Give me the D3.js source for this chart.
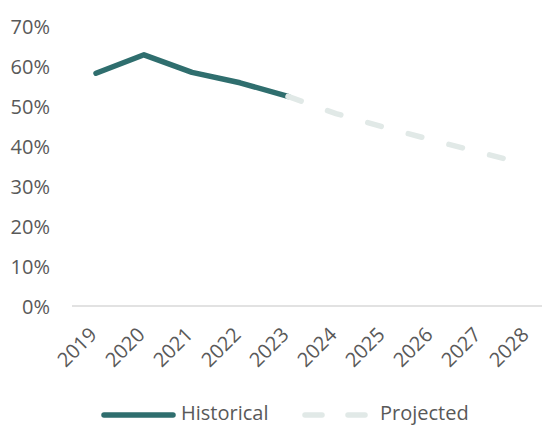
<!DOCTYPE html>
<html>
<head>
<meta charset="utf-8">
<script src="https://cdn.jsdelivr.net/npm/d3@7"></script>
<style>
  body { margin: 0; background: #fff; }
  svg { display: block; font-family: 'Open Sans', sans-serif; }
</style>
</head>
<body>
<div id="chart"></div>
<script>
// data (percent)
const years = ['2019', '2020', '2021', '2022', '2023', '2024', '2025', '2026', '2027', '2028'];
const historicalYears = ['2019', '2020', '2021', '2022', '2023'];
const historical = [58.2, 62.8, 58.4, 55.8, 52.4];
const projectedYears = ['2023', '2024', '2025', '2026', '2027', '2028'];
const projected = [52.4, 48.1, 44.7, 41.5, 38.4, 35.3];
const yTicks = [0, 10, 20, 30, 40, 50, 60, 70];
const seriesNames = ['Historical', 'Projected'];

const width = 542;
const height = 426;
const teal = '#2f6e6e';
const light = '#e1e9e7';
const textColor = '#595959';
const font = "'Open Sans', sans-serif";

// scales
const scaleX = d3.scaleBand().domain(years).range([72, 552]);
const scaleY = d3.scaleLinear().domain([0, 70]).range([306, 26]);
const cx = d => scaleX(d) + scaleX.bandwidth() / 2;

const $svg = d3.select('#chart').append('svg')
    .attr('width', width)
    .attr('height', height);

// y axis labels, no line
const $yAxis = $svg.append('g')
    .attr('transform', 'translate(50, 0)')
    .call(d3.axisLeft(scaleY).tickValues(yTicks).tickSize(0).tickPadding(0).tickFormat(d => `${d}%`))
    .attr('font-family', font)
    .attr('font-size', 20);
$yAxis.select('.domain').remove();
$yAxis.selectAll('text')
    .attr('fill', textColor)
    .attr('dy', '0.35em');

// x axis baseline
$svg.append('line')
    .attr('x1', scaleX.range()[0])
    .attr('x2', scaleX.range()[1])
    .attr('y1', scaleY(0))
    .attr('y2', scaleY(0))
    .attr('stroke', '#d9d9d9')
    .attr('stroke-width', 1.5);

// rotated year labels
$svg.append('g').selectAll('text')
    .data(years)
    .join('text')
    .attr('transform', d => `translate(${cx(d) + 2}, 336) rotate(-45)`)
    .attr('text-anchor', 'end')
    .attr('fill', textColor)
    .style('font-size', '20px')
    .text(d => d);

const line = d3.line()
    .x(d => cx(d[0]))
    .y(d => scaleY(d[1]));

// historical solid, projected dashed on top
$svg.append('path')
    .datum(d3.zip(historicalYears, historical))
    .attr('d', line)
    .attr('fill', 'none')
    .attr('stroke', teal)
    .attr('stroke-width', 5.5)
    .attr('stroke-linecap', 'round')
    .attr('stroke-linejoin', 'round');

$svg.append('path')
    .datum(d3.zip(projectedYears, projected))
    .attr('d', line)
    .attr('fill', 'none')
    .attr('stroke', light)
    .attr('stroke-width', 5.5)
    .attr('stroke-linecap', 'round')
    .attr('stroke-dasharray', '14,28');

// legend
const $legend = $svg.append('g');
$legend.append('line')
    .attr('x1', 104).attr('x2', 173)
    .attr('y1', 415).attr('y2', 415)
    .attr('stroke', teal)
    .attr('stroke-width', 5.5)
    .attr('stroke-linecap', 'round');
$legend.append('line')
    .attr('x1', 305).attr('x2', 365)
    .attr('y1', 415).attr('y2', 415)
    .attr('stroke', light)
    .attr('stroke-width', 5.5)
    .attr('stroke-linecap', 'round')
    .attr('stroke-dasharray', '17,26');
$legend.selectAll('text')
    .data(seriesNames)
    .join('text')
    .attr('x', (d, i) => (i === 0 ? 181 : 380))
    .attr('y', 420)
    .attr('fill', textColor)
    .style('font-size', '20px')
    .text(d => d);
</script>
</body>
</html>
